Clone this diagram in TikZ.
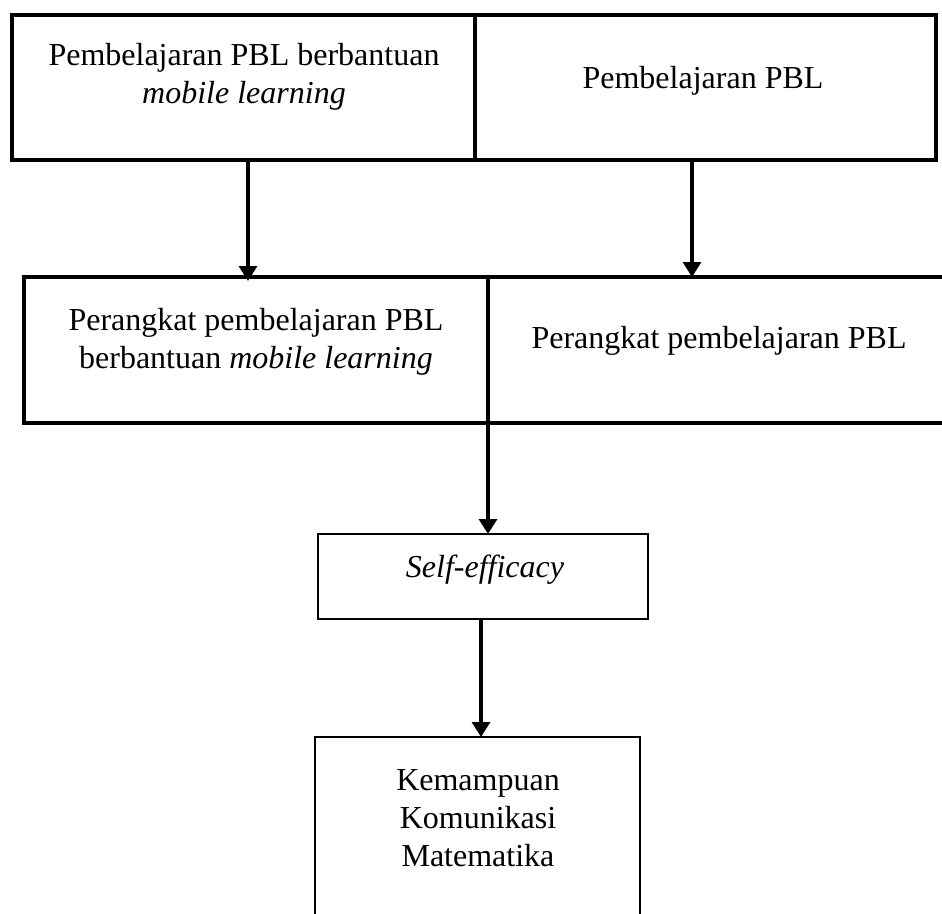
\documentclass[tikz,border=0pt]{standalone}
\usepackage{fontspec}
\setmainfont{Liberation Serif}
\usetikzlibrary{arrows.meta}
\begin{document}
\begin{tikzpicture}[x=1pt,y=-1pt,
  boxa/.style={draw,line width=3.4pt,rectangle,inner sep=0pt,outer sep=0pt},
  boxb/.style={draw,line width=2.4pt,rectangle,inner sep=0pt,outer sep=0pt},
  txt/.style={font=\fontsize{32}{38}\selectfont,align=center,inner sep=0pt,anchor=base},
  arr/.style={line width=3.2pt,-{Triangle[width=18pt,length=15pt]}}]
\useasboundingbox[fill=white] (0,0) rectangle (942,913);
% boxes
\node[boxa,minimum width=463pt,minimum height=145pt] (tl) at (243.5,87.5) {};
\node[boxa,minimum width=461pt,minimum height=145pt] (tr) at (705.5,87.5) {};
\node[boxa,minimum width=464pt,minimum height=146pt] (ml) at (256,350) {};
\node[boxa,minimum width=482pt,minimum height=146pt] (mr) at (729,350) {};
\node[boxb,minimum width=330pt,minimum height=85pt] (se) at (483,576.5) {};
\node[boxb,line width=2.8pt,minimum width=325pt,minimum height=223pt] (bt) at (477.5,848.5) {};
% texts
\node[txt] (t1) at (244,103) {Pembelajaran PBL berbantuan\\\textit{mobile learning}};
\node[txt] (t2) at (703,88) {Pembelajaran PBL};
\node[txt] (t3) at (256,368) {Perangkat pembelajaran PBL\\berbantuan \textit{mobile learning}};
\node[txt] (t4) at (719,348) {Perangkat pembelajaran PBL};
\node[txt] (t5) at (485,577) {\textit{Self-efficacy}};
\node[txt] (t6) at (478,866) {Kemampuan\\Komunikasi\\Matematika};
% arrows
\coordinate (c1) at (248,0);
\coordinate (c2) at (692,0);
\coordinate (c4) at (481,0);
\draw[arr] (tl.south -| c1) -- ([yshift=-4pt]ml.north -| c1);
\draw[arr] (tr.south -| c2) -- (mr.north -| c2);
\draw[arr] (ml.south east) -- (se.north -| ml.south east);
\draw[arr] (se.south -| c4) -- (bt.north -| c4);
\end{tikzpicture}
\end{document}
